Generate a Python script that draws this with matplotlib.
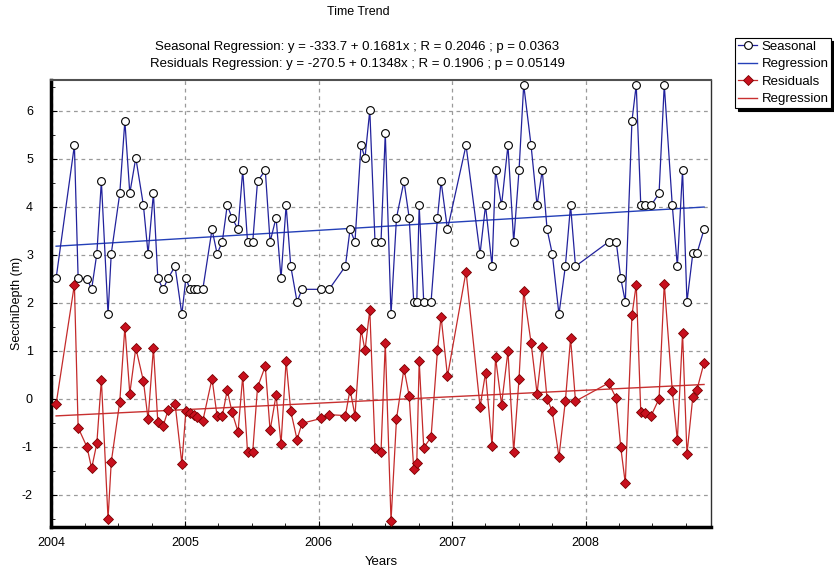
import matplotlib.pyplot as plt
import numpy as np
from matplotlib.ticker import MultipleLocator

plt.rcParams['font.family'] = ['Liberation Sans', 'DejaVu Sans']
plt.rcParams['axes.unicode_minus'] = False

# sampling dates (decimal years)
years = [
    2004.034, 2004.171, 2004.199, 2004.266, 2004.300, 2004.339, 2004.373, 2004.423,
    2004.447, 2004.511, 2004.549, 2004.586, 2004.631, 2004.688, 2004.723, 2004.763,
    2004.796, 2004.835, 2004.873, 2004.925, 2004.976, 2005.006, 2005.037, 2005.064,
    2005.090, 2005.133, 2005.202, 2005.240, 2005.279, 2005.316, 2005.352, 2005.397,
    2005.432, 2005.468, 2005.507, 2005.543, 2005.601, 2005.637, 2005.682, 2005.719,
    2005.757, 2005.792, 2005.839, 2005.876, 2006.019, 2006.079, 2006.201, 2006.236,
    2006.273, 2006.318, 2006.348, 2006.384, 2006.423, 2006.468, 2006.500, 2006.543,
    2006.584, 2006.640, 2006.679, 2006.713, 2006.736, 2006.754, 2006.788, 2006.843,
    2006.891, 2006.918, 2006.966, 2007.105, 2007.210, 2007.251, 2007.300, 2007.326,
    2007.371, 2007.419, 2007.462, 2007.502, 2007.537, 2007.592, 2007.637, 2007.676,
    2007.712, 2007.751, 2007.801, 2007.849, 2007.888, 2007.925, 2008.174, 2008.230,
    2008.264, 2008.298, 2008.348, 2008.380, 2008.414, 2008.448, 2008.492, 2008.551,
    2008.590, 2008.650, 2008.688, 2008.727, 2008.760, 2008.804, 2008.835, 2008.888,
]

seasonal = [
    2.51, 5.28, 2.51, 2.50, 2.28, 3.02, 4.53, 1.76,
    3.02, 4.28, 5.79, 4.28, 5.02, 4.03, 3.02, 4.28,
    2.51, 2.28, 2.51, 2.76, 1.76, 2.51, 2.28, 2.28,
    2.28, 2.28, 3.53, 3.02, 3.27, 4.03, 3.77, 3.53,
    4.76, 3.27, 3.27, 4.53, 4.76, 3.27, 3.77, 2.51,
    4.03, 2.76, 2.02, 2.28, 2.28, 2.28, 2.76, 3.53,
    3.27, 5.28, 5.02, 6.01, 3.27, 3.27, 5.53, 1.76,
    3.77, 4.53, 3.77, 2.02, 2.02, 4.03, 2.02, 2.02,
    3.77, 4.53, 3.53, 5.28, 3.02, 4.03, 2.76, 4.76,
    4.03, 5.28, 3.27, 4.76, 6.54, 5.28, 4.03, 4.76,
    3.53, 3.02, 1.76, 2.76, 4.03, 2.76, 3.27, 3.27,
    2.51, 2.02, 5.79, 6.54, 4.03, 4.03, 4.03, 4.28,
    6.54, 4.03, 2.76, 4.76, 2.02, 3.03, 3.03, 3.53,
]

residuals = [
    -0.11, 2.38, -0.60, -1.01, -1.45, -0.93, 0.40, -2.50,
    -1.32, -0.06, 1.49, 0.11, 1.06, 0.37, -0.43, 1.06,
    -0.49, -0.57, -0.24, -0.10, -1.35, -0.26, -0.30, -0.34,
    -0.37, -0.46, 0.42, -0.36, -0.36, 0.18, -0.28, -0.69,
    0.47, -1.10, -1.10, 0.24, 0.68, -0.66, 0.08, -0.94,
    0.79, -0.26, -0.85, -0.51, -0.41, -0.33, -0.35, 0.19,
    -0.35, 1.45, 1.01, 1.85, -1.02, -1.10, 1.16, -2.54,
    -0.42, 0.63, 0.06, -1.46, -1.33, 0.79, -1.02, -0.80,
    1.01, 1.71, 0.47, 2.65, -0.17, 0.54, -0.98, 0.86,
    -0.12, 0.99, -1.10, 0.42, 2.24, 1.17, 0.11, 1.08,
    0.00, -0.26, -1.21, -0.05, 1.26, -0.05, 0.33, 0.01,
    -1.01, -1.76, 1.74, 2.38, -0.28, -0.30, -0.35, 0.00,
    2.40, 0.17, -0.86, 1.37, -1.15, 0.04, 0.19, 0.75,
]

# regression coefficients (intercept, slope)
seas_fit = (-333.7, 0.1681)
resid_fit = (-270.5, 0.1348)

title = 'Time Trend'
subtitle = ('Seasonal Regression: y = -333.7 + 0.1681x ; R = 0.2046 ; p = 0.0363\n'
            'Residuals Regression: y = -270.5 + 0.1348x ; R = 0.1906 ; p = 0.05149')

x = np.array(years)
xr = np.array([x.min(), x.max()])

fig = plt.figure(figsize=(8.34, 5.71), dpi=100)
ax = fig.add_axes([0.0612, 0.0771, 0.7913, 0.7828])

blue = '#22229c'
red = '#c42a2a'

ax.plot(x, seasonal, color=blue, lw=0.9, marker='o', ms=5.6,
        mfc='white', mec='black', mew=0.8, zorder=4, label='Seasonal')
ax.plot(xr, seas_fit[0] + seas_fit[1] * xr, color='#2440b8', lw=1.0,
        zorder=3, label='Regression')
ax.plot(x, residuals, color=red, lw=0.9, marker='D', ms=5.0,
        mfc='#c8101e', mec='#7a0000', mew=0.6, zorder=4, label='Residuals')
ax.plot(xr, resid_fit[0] + resid_fit[1] * xr, color='#c83030', lw=1.0,
        zorder=3, label='Regression')

ax.set_xlim(2003.996, 2008.94)
ax.set_ylim(-2.67, 6.64)
ax.xaxis.set_major_locator(MultipleLocator(1))
ax.xaxis.set_minor_locator(MultipleLocator(0.25))
ax.yaxis.set_major_locator(MultipleLocator(1))
ax.yaxis.set_minor_locator(MultipleLocator(0.5))
ax.xaxis.set_major_formatter(plt.FuncFormatter(lambda v, p: '%d' % round(v)))
ax.tick_params(which='both', direction='in', labelsize=9, colors='black')
ax.tick_params(which='major', length=4)
ax.tick_params(which='minor', length=3)
ax.tick_params(axis='x', which='major', pad=7)
ax.tick_params(axis='y', which='major', pad=13)

ax.grid(True, which='major', color='#9a9a9a', ls=(0, (3, 3)), lw=0.9)

for side in ['left', 'bottom']:
    ax.spines[side].set_linewidth(2.5)
    ax.spines[side].set_color('black')
ax.spines['top'].set_linewidth(1.5)
ax.spines['top'].set_color('#505050')
ax.spines['right'].set_linewidth(1.0)
ax.spines['right'].set_color('#303030')

ax.set_ylabel('SecchiDepth (m)', fontsize=9, labelpad=-0.5)
ax.set_xlabel('Years', fontsize=9.5, labelpad=5)

fig.text(0.43, 0.99, title, ha='center', va='top', fontsize=9)
fig.text(0.428, 0.928, subtitle, ha='center', va='top', fontsize=9.5,
         linespacing=1.5)

leg = fig.legend(loc='upper left', bbox_to_anchor=(735 / 834, 1 - 38 / 571),
                 fontsize=9.5, frameon=True, fancybox=False,
                 shadow={'color': 'black', 'alpha': 1},
                 handlelength=1.5, handletextpad=0.3, borderpad=0.2,
                 labelspacing=0.4, borderaxespad=0)
leg.get_frame().set_edgecolor('black')
leg.get_frame().set_linewidth(0.8)

fig.savefig('out.png', dpi=100)
